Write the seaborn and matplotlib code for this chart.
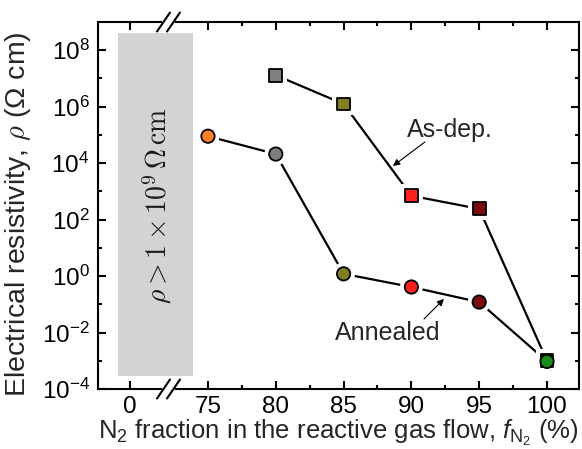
import matplotlib
matplotlib.use("Agg")
import matplotlib.pyplot as plt
from matplotlib.lines import Line2D
from matplotlib.ticker import FixedLocator, FixedFormatter, NullFormatter
import seaborn as sns
import pandas as pd

# ---------------- data ----------------
asdep_n2 = [80, 85, 90, 95, 100]
asdep_rho = [1.3e7, 1.25e6, 7.0e2, 2.4e2, 1.0e-3]
asdep_colors = ["#7f7f7f", "#808020", "#ff2020", "#7a0c0c", "#0f5a0f"]

anneal_n2 = [75, 80, 85, 90, 95, 100]
anneal_rho = [9.0e4, 2.1e4, 1.2, 0.41, 0.12, 9.5e-4]
anneal_colors = ["#ff7f2a", "#7f7f7f", "#808020", "#ff2020", "#7a0c0c", "#1a8c1a"]

xtick_values = [0, 75, 80, 85, 90, 95, 100]
xtick_labels = ["0", "75", "80", "85", "90", "95", "100"]
xminor_values = [77.5, 82.5, 87.5, 92.5, 97.5]
ytick_exponents = [-4, -2, 0, 2, 4, 6, 8]
yminor_exponents = [-3, -1, 1, 3, 5, 7]

# ---------------- style ----------------
sns.set_theme(style="ticks")
plt.rcParams["font.family"] = ["Liberation Sans", "DejaVu Sans"]
plt.rcParams["mathtext.fontset"] = "custom"
plt.rcParams["mathtext.rm"] = "Liberation Sans"
plt.rcParams["mathtext.it"] = "Liberation Sans:italic"
plt.rcParams["mathtext.bf"] = "Liberation Sans:bold"

W, H = 582, 449
fig = plt.figure(figsize=(W / 100, H / 100), dpi=100)
ax_l, ax_r, ax_t, ax_b = 98, 579, 22, 389
ax = fig.add_axes([ax_l / W, 1 - ax_b / H, (ax_r - ax_l) / W, (ax_b - ax_t) / H])

ZERO_POS = 69.25  # where the "0" column sits on the broken axis


def xpos(v):
    return ZERO_POS if v == 0 else v


# grey "no data" region
ax.axvspan(68.4, 73.87, ymin=0.035, ymax=0.970, color="#d3d3d3", lw=0, zorder=0)
ax.text(71.24, 0.499, r"$\rho > 1 \times 10^{9}\,\Omega\,\mathrm{cm}$",
        rotation=90, ha="center", va="center", fontsize=20, color="#1a1a1a",
        math_fontfamily="cm", transform=ax.get_xaxis_transform())

df_a = pd.DataFrame({"n2": asdep_n2, "rho": asdep_rho, "k": [str(v) for v in asdep_n2]})
df_n = pd.DataFrame({"n2": anneal_n2, "rho": anneal_rho, "k": [str(v) for v in anneal_n2]})

for df in (df_a, df_n):
    sns.lineplot(data=df, x="n2", y="rho", sort=False, estimator=None, color="black",
                 lw=1.6, ax=ax, zorder=2)

sns.scatterplot(data=df_a, x="n2", y="rho", marker="s", s=270, color="white",
                edgecolor="none", ax=ax, legend=False, zorder=3)
sns.scatterplot(data=df_n, x="n2", y="rho", marker="o", s=270, color="white",
                edgecolor="none", ax=ax, legend=False, zorder=3)
sns.scatterplot(data=df_a, x="n2", y="rho", hue="k", hue_order=list(df_a["k"]),
                palette=asdep_colors, marker="s", s=85, edgecolor="black",
                linewidth=1.3, ax=ax, legend=False, zorder=4)
sns.scatterplot(data=df_n, x="n2", y="rho", hue="k", hue_order=list(df_n["k"]),
                palette=anneal_colors, marker="o", s=92, edgecolor="black",
                linewidth=1.3, ax=ax, legend=False, zorder=5)

# annotations
ax.text(92.85, 10 ** 4.93, "As-dep.", ha="center", va="baseline", fontsize=18)
ax.annotate("", xy=(88.64, 10 ** 3.90), xytext=(91.0, 10 ** 4.75),
            arrowprops=dict(arrowstyle="-|>", color="black", lw=0.8,
                            mutation_scale=10, shrinkA=0, shrinkB=0))
ax.text(88.27, 10 ** -2.26, "Annealed", ha="center", va="baseline", fontsize=18)
ax.annotate("", xy=(92.40, 10 ** -0.81), xytext=(90.93, 10 ** -1.52),
            arrowprops=dict(arrowstyle="-|>", color="black", lw=0.8,
                            mutation_scale=10, shrinkA=0, shrinkB=0))

# axes
ax.set_yscale("log")
ax.set_xlim(66.89, 102.36)
ax.set_ylim(1e-4, 1e9)
ax.xaxis.set_major_locator(FixedLocator([xpos(v) for v in xtick_values]))
ax.xaxis.set_major_formatter(FixedFormatter(xtick_labels))
ax.xaxis.set_minor_locator(FixedLocator(xminor_values))
ax.yaxis.set_major_locator(FixedLocator([10.0 ** e for e in ytick_exponents]))
ax.yaxis.set_major_formatter(FixedFormatter([r"10$^{%d}$" % e for e in ytick_exponents]))
ax.yaxis.set_minor_locator(FixedLocator([10.0 ** e for e in yminor_exponents]))
ax.yaxis.set_minor_formatter(NullFormatter())

for s in ax.spines.values():
    s.set_linewidth(1.5)
    s.set_color("black")
ax.tick_params(which="both", direction="in", top=True, right=True, width=1.5,
               colors="black", labelsize=17.5)
ax.tick_params(which="major", length=6)
ax.tick_params(which="minor", length=3)
ax.tick_params(axis="y", pad=6)
ax.tick_params(axis="x", pad=5)

ax.set_xlabel(r"N$_2$ fraction in the reactive gas flow, $f_{\mathrm{N_2}}$ (%)", fontsize=18.5)
ax.xaxis.label.set_va("baseline")
ax.xaxis.set_label_coords(0.5, (ax_b - 439) / (ax_b - ax_t))
ax.set_ylabel(r"Electrical resistivity, $\rho$ (Ω cm)", fontsize=20.5,
              math_fontfamily="cm")
ax.yaxis.label.set_va("center")
ax.yaxis.set_label_coords((18 - ax_l) / (ax_r - ax_l), (ax_b - 214) / (ax_b - ax_t))

# axis break marks
def fx(px):
    return px / W


def fy(py):
    return 1 - py / H


for yb in (ax_t, ax_b):
    fig.add_artist(Line2D([fx(164), fx(173)], [fy(yb), fy(yb)], color="white",
                          lw=3, transform=fig.transFigure, zorder=10))
    for xc in (163.5, 173.5):
        fig.add_artist(Line2D([fx(xc - 6.5), fx(xc + 6.5)], [fy(yb + 9.5), fy(yb - 9.5)],
                              color="black", lw=1.5, transform=fig.transFigure, zorder=11))

fig.savefig("out.png", dpi=100, facecolor="white")
